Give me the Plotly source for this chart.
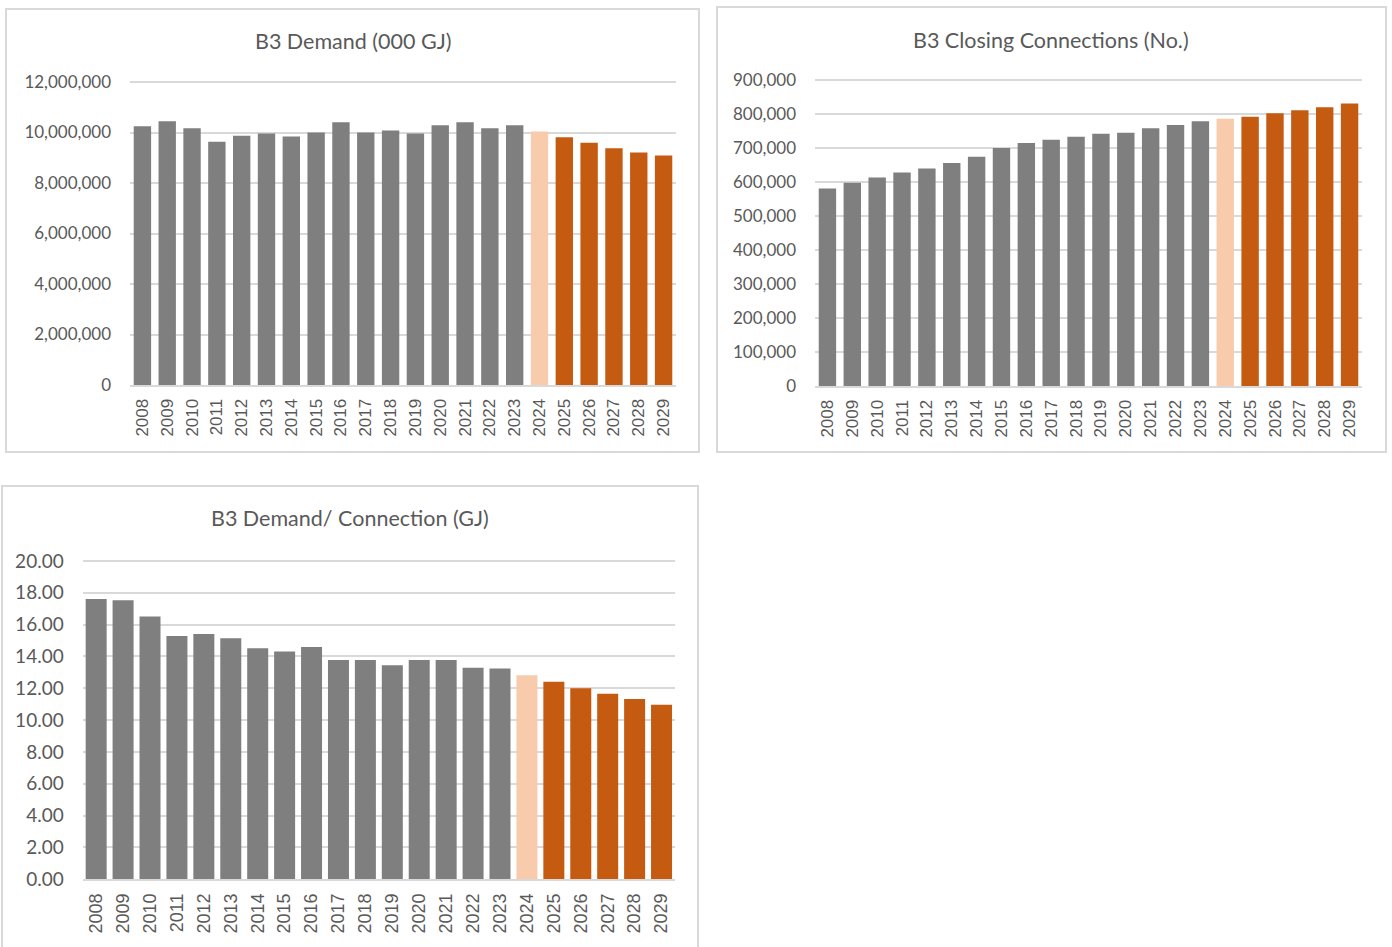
import plotly.graph_objects as go

W, H = 1392, 947

years = ["2008", "2009", "2010", "2011", "2012", "2013", "2014", "2015", "2016", "2017", "2018",
         "2019", "2020", "2021", "2022", "2023", "2024", "2025", "2026", "2027", "2028", "2029"]

# Actual (A), estimate (E), forecast (F)
phase = ["A", "A", "A", "A", "A", "A", "A", "A", "A", "A", "A",
         "A", "A", "A", "A", "A", "E", "F", "F", "F", "F", "F"]

demand_000gj = [10250000, 10450000, 10170000, 9630000, 9870000, 9960000, 9840000, 10000000,
                10410000, 10000000, 10080000, 9960000, 10290000, 10410000, 10170000, 10290000,
                10040000, 9810000, 9590000, 9380000, 9210000, 9090000]

closing_connections = [581000, 598000, 613000, 628000, 640000, 656000, 674000, 700000, 715000,
                       724000, 733000, 742000, 745000, 758000, 768000, 779000, 786000, 792000,
                       802000, 811000, 820000, 831000]

demand_per_connection = [17.61, 17.53, 16.52, 15.29, 15.41, 15.14, 14.51, 14.32, 14.60, 13.78,
                         13.78, 13.45, 13.78, 13.78, 13.30, 13.24, 12.82, 12.42, 12.00, 11.66,
                         11.33, 10.97]

titles = ["B3 Demand (000 GJ)", "B3 Closing Connections (No.)", "B3 Demand/ Connection (GJ)"]

PHASE_COLOR = {"A": "#7f7f7f", "E": "#f8cbad", "F": "#c55a11"}
colors = [PHASE_COLOR[p] for p in phase]

TXT = "#595959"
GRID = "#d9d9d9"


def px(x):
    return x / W


def py(y):
    return 1 - y / H


# panel geometry in pixels: plot x0, x1, y of top gridline, y of baseline
panels = [
    dict(x0=130, x1=676, yt=82, yb=385, top=12000000, dtick=2000000, fmt=",d",
         xfs=17, yfs=17, border=(6, 9, 699, 452, True), title_xy=(353, 41), gap=0.3),
    dict(x0=815, x1=1362, yt=80, yb=386, top=900000, dtick=100000, fmt=",d",
         xfs=17, yfs=17, border=(717, 7, 1386, 452, True), title_xy=(1051, 40), gap=0.3),
    dict(x0=82.7, x1=675, yt=561, yb=879.3, top=20, dtick=2, fmt=".2f",
         xfs=18, yfs=19, border=(2, 486, 698, 947, False), title_xy=(350, 518), gap=0.22),
]
series = [demand_000gj, closing_connections, demand_per_connection]

fig = go.Figure()
layout = dict(width=W, height=H, margin=dict(l=0, r=0, t=0, b=0, pad=0, autoexpand=False),
              paper_bgcolor="white", plot_bgcolor="white", showlegend=False,
              shapes=[], annotations=[])

PAD = 4  # extra pixels above top gridline so it is drawn inside the plot area

for i, (p, vals, title) in enumerate(zip(panels, series, titles)):
    n = "" if i == 0 else str(i + 1)
    fig.add_trace(go.Bar(x=years, y=vals, marker=dict(color=colors, line=dict(width=0)),
                         xaxis="x" + n, yaxis="y" + n, width=1 - p["gap"],
                         hoverinfo="x+y"))
    span = p["yb"] - p["yt"]
    ymax = p["top"] * (span + PAD) / span
    layout["xaxis" + n] = dict(
        domain=[px(p["x0"]), px(p["x1"])], anchor="y" + n, type="category",
        tickangle=-90, showgrid=False, showline=True, linecolor=GRID, linewidth=2,
        ticks="", ticklabelstandoff=5, automargin=False,
        tickfont=dict(family="Liberation Sans, Arial, sans-serif", size=p["xfs"], color=TXT),
    )
    layout["yaxis" + n] = dict(
        domain=[py(p["yb"]), py(p["yt"] - PAD)], anchor="x" + n, range=[0, ymax],
        dtick=p["dtick"], tick0=0, tickformat=p["fmt"], showgrid=True, gridcolor=GRID,
        gridwidth=1.5, zeroline=False, showline=False, ticks="", ticklabelstandoff=18,
        automargin=False,
        tickfont=dict(family="Lato, sans-serif", size=p["yfs"], color=TXT),
    )
    bx0, by0, bx1, by1, closed = p["border"]
    if closed:
        path = f"M {px(bx0)},{py(by1)} L {px(bx0)},{py(by0)} L {px(bx1)},{py(by0)} L {px(bx1)},{py(by1)} Z"
    else:
        path = f"M {px(bx0)},{py(by1)} L {px(bx0)},{py(by0)} L {px(bx1)},{py(by0)} L {px(bx1)},{py(by1)}"
    layout["shapes"].append(dict(type="path", xref="paper", yref="paper", path=path,
                                 line=dict(color=GRID, width=2), layer="below"))
    tx, ty = p["title_xy"]
    layout["annotations"].append(dict(text=title, xref="paper", yref="paper",
                                      x=px(tx), y=py(ty), xanchor="center", yanchor="middle",
                                      showarrow=False,
                                      font=dict(family="Lato, sans-serif", size=21.5, color=TXT)))

fig.update_layout(**layout)
fig.write_html("out.html")
